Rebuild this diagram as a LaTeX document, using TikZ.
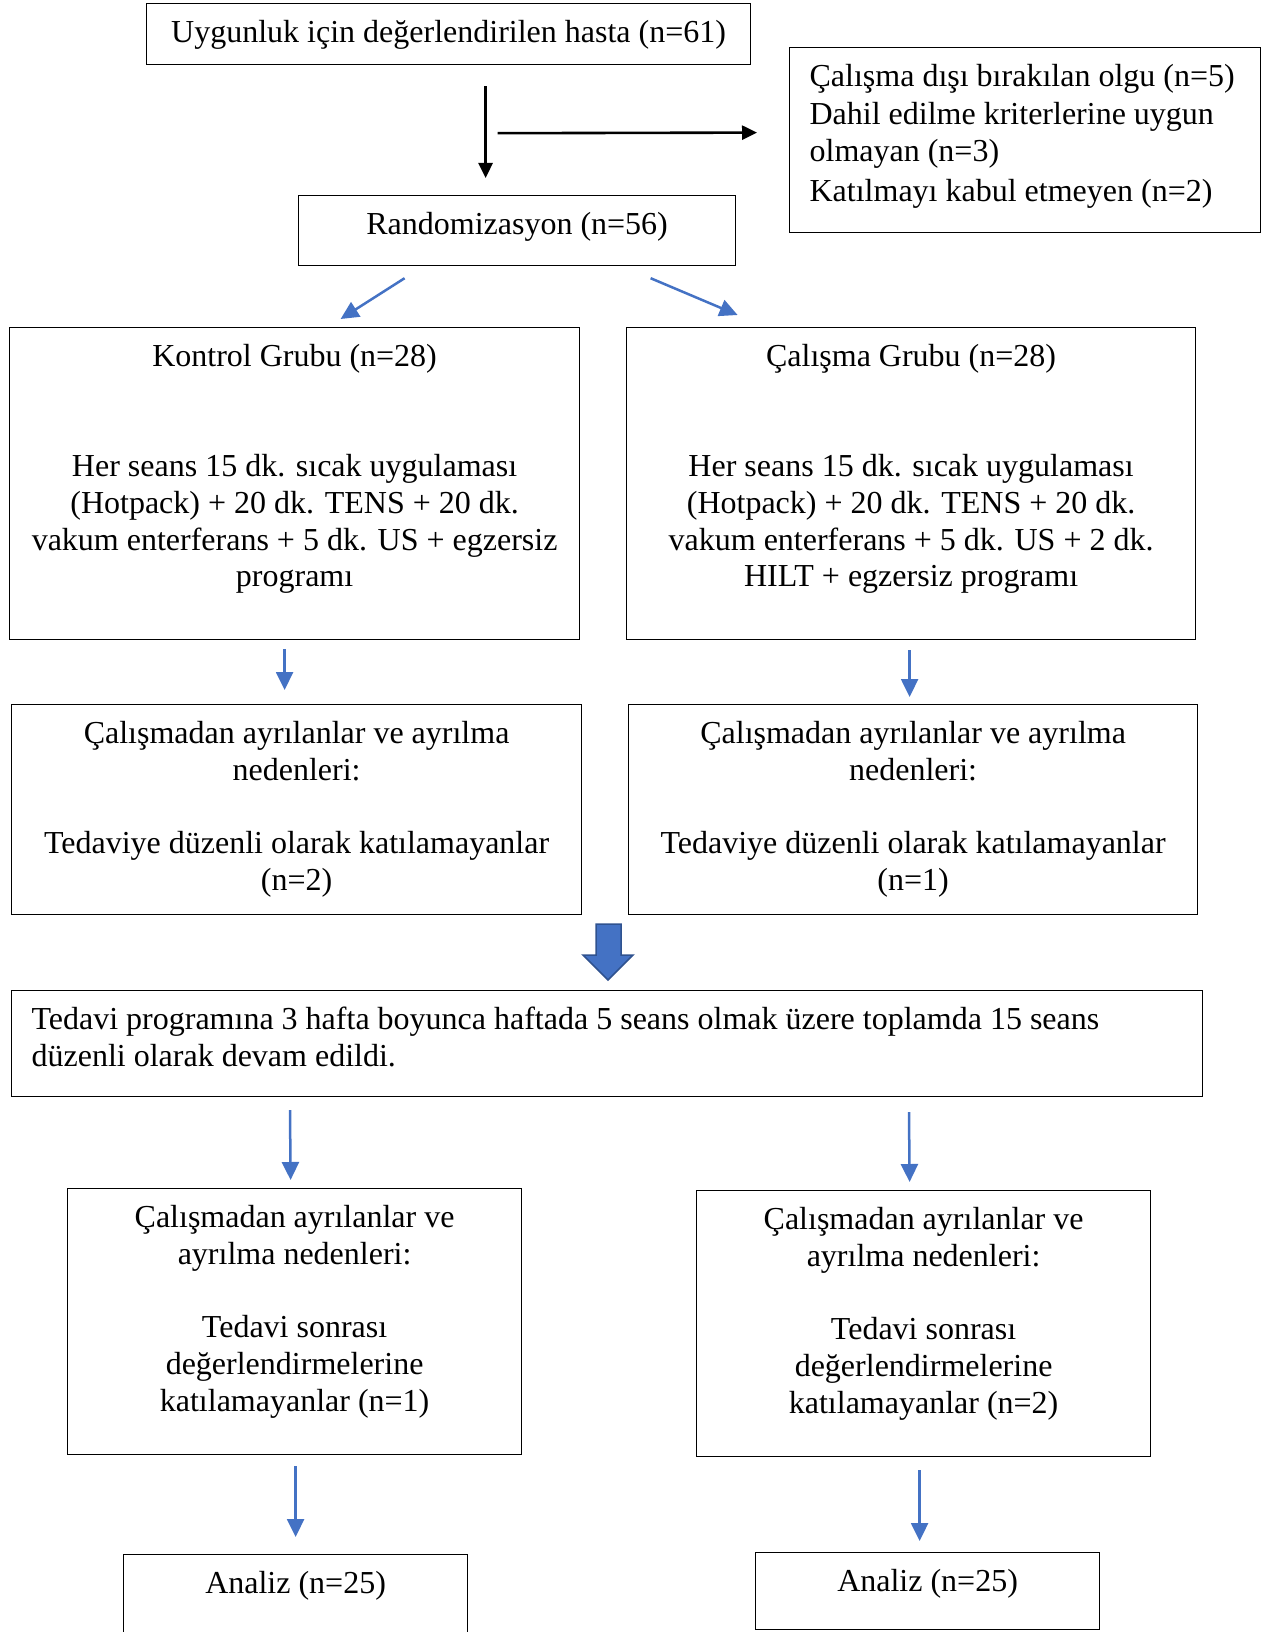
\documentclass[tikz,border=0pt]{standalone}
\usepackage{fontspec}
\setmainfont{Liberation Serif}
\usepackage{xcolor}
\usetikzlibrary{arrows.meta,calc,positioning}

\definecolor{okmavi}{HTML}{4472C4}
\definecolor{okkenar}{HTML}{2F528F}

% box contents: width, height, text
\newcommand{\ortayazi}[3]{\parbox[t][#2][t]{#1}{\centering\vspace*{13.5pt}\strut#3}}
\newcommand{\solyazi}[3]{\parbox[t][#2][t]{#1}{\raggedright\leftskip=12pt\relax\vspace*{13.5pt}\strut#3}}

\begin{document}
\begin{tikzpicture}[x=1pt, y=-1pt,
    font=\fontsize{32}{36.7}\selectfont,
    kutu/.style={draw, line width=1.2pt, inner xsep=8pt, inner ysep=0pt, anchor=north west},
    okblue/.style={draw=okmavi, line width=2.5pt, -{Triangle[length=18pt,width=17pt]}},
    okblack/.style={draw=black, line width=2.6pt, -{Triangle[length=15pt,width=14pt]}}]
    \useasboundingbox (0,0) rectangle (1267,1632);

    % Eligibility and exclusion
    \node[kutu] (ust) at (146,3) {\ortayazi{588pt}{61pt}{Uygunluk için değerlendirilen hasta (n=61)}};
    \node[kutu] (disla) at (789,47) {\solyazi{455pt}{185pt}{\vspace*{1.5pt}Çalışma dışı bırakılan olgu (n=5)\\Dahil edilme kriterlerine uygun\\olmayan (n=3)\\[3pt]Katılmayı kabul etmeyen (n=2)}};
    \node[kutu] (rand) at (298,195) {\ortayazi{421pt}{70pt}{Randomizasyon (n=56)}};

    % Groups
    \node[kutu] (kontrol) at (9,327) {\ortayazi{554pt}{312pt}{Kontrol Grubu (n=28)\\[73.4pt]Her seans 15 dk. sıcak uygulaması\\(Hotpack) + 20 dk. TENS + 20 dk.\\vakum enterferans + 5 dk. US + egzersiz\\programı}};
    \node[kutu] (calisma) at (626,327) {\ortayazi{553pt}{312pt}{Çalışma Grubu (n=28)\\[73.4pt]Her seans 15 dk. sıcak uygulaması\\(Hotpack) + 20 dk. TENS + 20 dk.\\vakum enterferans + 5 dk. US + 2 dk.\\HILT + egzersiz programı}};

    % Drop outs during treatment
    \node[kutu] (ayr1) at (11,704) {\ortayazi{554pt}{210pt}{Çalışmadan ayrılanlar ve ayrılma\\nedenleri:\\[36.7pt]Tedaviye düzenli olarak katılamayanlar\\(n=2)}};
    \node[kutu] (ayr2) at (628,704) {\ortayazi{553pt}{210pt}{Çalışmadan ayrılanlar ve ayrılma\\nedenleri:\\[36.7pt]Tedaviye düzenli olarak katılamayanlar\\(n=1)}};

    % Treatment program
    \node[kutu] (tedavi) at (11,990) {\solyazi{1175pt}{106pt}{Tedavi programına 3 hafta boyunca haftada 5 seans olmak üzere toplamda 15 seans\\düzenli olarak devam edildi.}};

    % Drop outs after treatment
    \node[kutu] (ayr3) at (67,1188) {\ortayazi{438pt}{266pt}{Çalışmadan ayrılanlar ve\\ayrılma nedenleri:\\[36.7pt]Tedavi sonrası\\değerlendirmelerine\\katılamayanlar (n=1)}};
    \node[kutu] (ayr4) at (696,1190) {\ortayazi{438pt}{266pt}{Çalışmadan ayrılanlar ve\\ayrılma nedenleri:\\[36.7pt]Tedavi sonrası\\değerlendirmelerine\\katılamayanlar (n=2)}};

    % Analysis
    \node[kutu] (analiz1) at (123,1554) {\ortayazi{328pt}{90pt}{Analiz (n=25)}};
    \node[kutu] (analiz2) at (755,1552) {\ortayazi{328pt}{77pt}{Analiz (n=25)}};

    % Arrows
    \draw[okblack] ($(ust.south)+(37,21)$) -- ($(rand.north)+(-31.5,-17)$);
    \draw[okblack] ($(ust.south)+(49,68)$) -- ($(disla.west)+(-32,-7.5)$);
    \draw[okblue] ($(rand.south)+(-112.5,12)$) -- ($(kontrol.north)+(46,-8)$);
    \draw[okblue] ($(rand.south)+(133.5,12)$) -- ($(calisma.north)+(-173.5,-12)$);
    \draw[okblue] ($(kontrol.south)+(-10,9)$) -- ($(ayr1.north)+(-12,-14)$);
    \draw[okblue] ($(calisma.south)+(-1.5,10)$) -- ($(ayr2.north)+(-3.5,-7)$);
    \draw[okblue] ($(tedavi.south west)+(279,13)$) -- ($(ayr3.north)+(-4,-8)$);
    \draw[okblue] ($(tedavi.south west)+(898,15)$) -- ($(ayr4.north)+(-14,-8)$);
    \draw[okblue] ($(ayr3.south)+(1,11)$) -- ($(analiz1.north)+(0,-17)$);
    \draw[okblue] ($(ayr4.south)+(-4,13)$) -- ($(analiz2.north)+(-8,-11)$);

    % Block arrow
    \filldraw[fill=okmavi, draw=okkenar, line width=1.5pt, line join=miter]
        (596,924) -- (621,924) -- (621,955) -- (633,955) -- (608,980) -- (583,955) -- (596,955) -- cycle;
\end{tikzpicture}
\end{document}
